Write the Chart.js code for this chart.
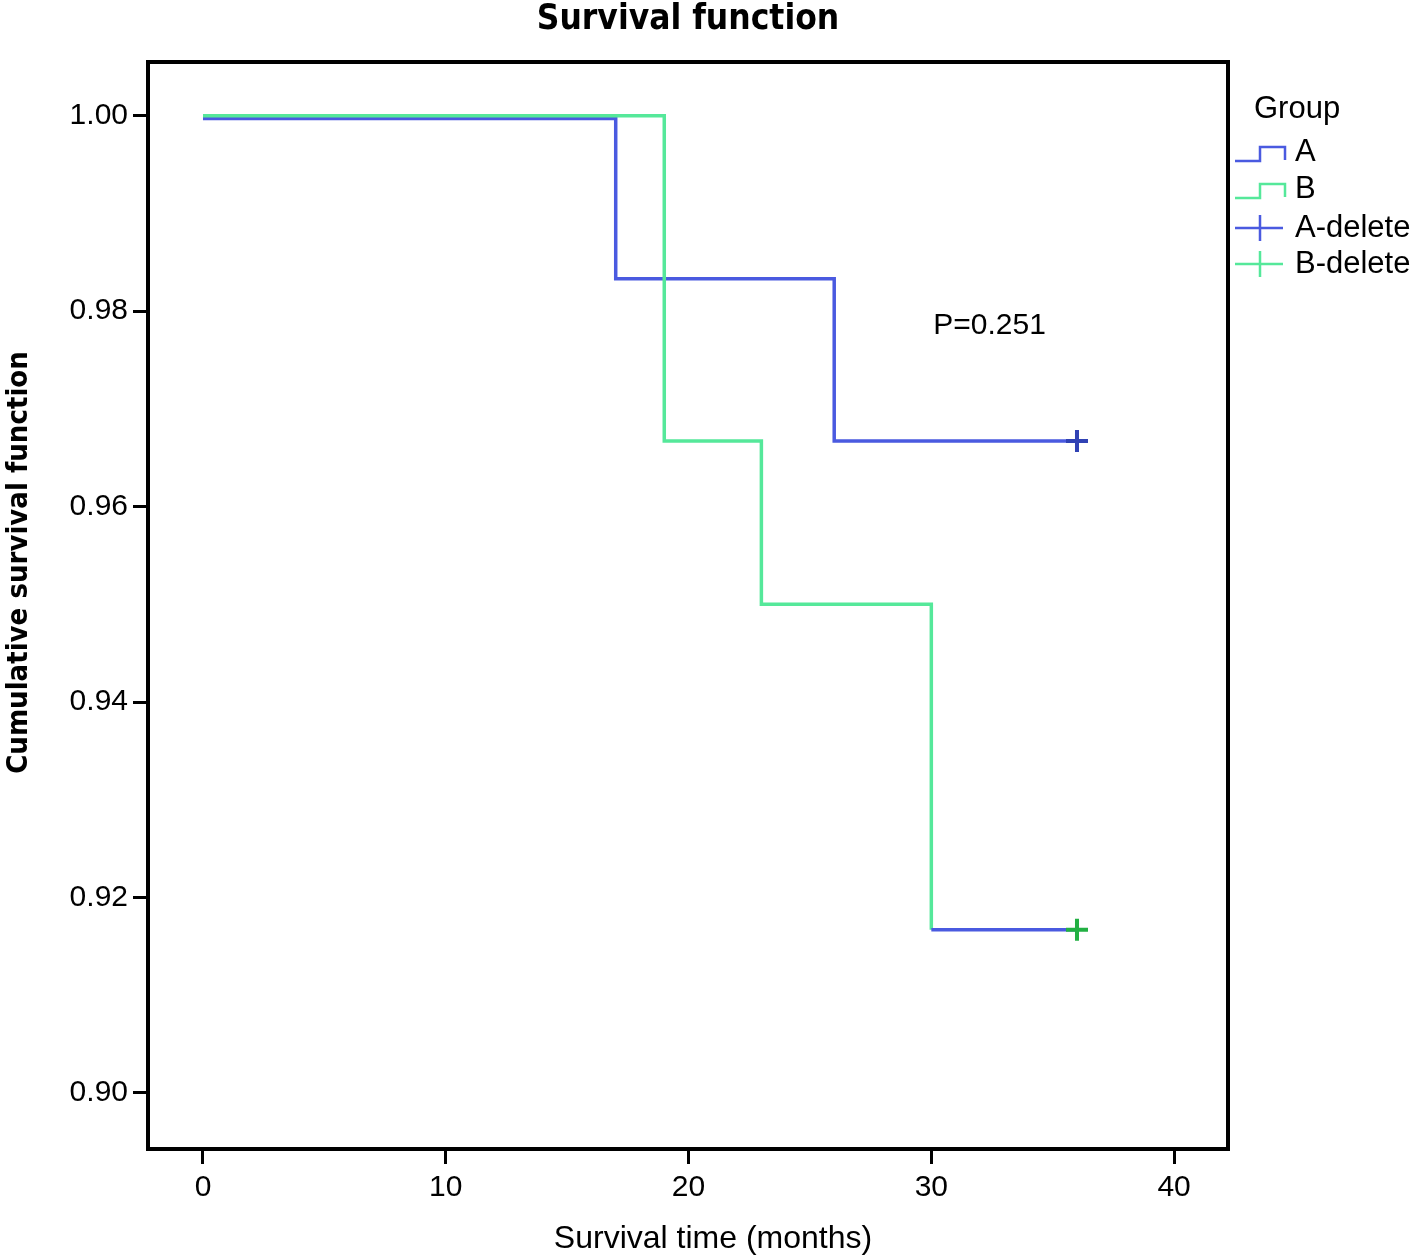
<!DOCTYPE html>
<html>
<head>
<meta charset="utf-8">
<script src="https://cdn.jsdelivr.net/npm/chart.js@4"></script>
<style>
  html, body { margin: 0; padding: 0; background: #fff; }
  #wrap { width: 1416px; height: 1257px; position: relative; }
</style>
</head>
<body>
<div id="wrap"><canvas id="c" width="1416" height="1257"></canvas></div>
<script>
// ---- data ----
const timesA = [0, 17, 26, 36];
const survA  = [0.9997, 0.9833, 0.9667, 0.9667];
const timesB = [0, 19, 23, 30, 36];
const survB  = [1.0, 0.9667, 0.9500, 0.9167, 0.9167];
const censorA = [{ x: 36, y: 0.9667 }];
const censorB = [{ x: 36, y: 0.9167 }];
const xTicks = [0, 10, 20, 30, 40];
const yTicks = [0.90, 0.92, 0.94, 0.96, 0.98, 1.00];
const groupNames = ['A', 'B', 'A-delete', 'B-delete'];
const pText = 'P=0.251';
const pPos = { x: 32.4, y: 0.9785 };
const xTitle = 'Survival time (months)';
const yTitle = 'Cumulative survival function';

const BLUE = '#4a5ae0';
const GREEN = '#55e89a';
const BLUE_MARK = '#3042b4';
const GREEN_MARK = '#22b043';
const FONT = "'Liberation Sans', Arial, sans-serif";
const NARROW = "'Liberation Sans Narrow', 'DejaVu Sans Condensed', Arial, sans-serif";

const ptsA = timesA.map((t, i) => ({ x: t, y: survA[i] }));
const ptsB = timesB.map((t, i) => ({ x: t, y: survB[i] }));

const boxPlugin = {
  id: 'box',
  afterDatasetsDraw(chart) {
    const { ctx, chartArea: a } = chart;
    ctx.save();
    ctx.strokeStyle = '#000';
    ctx.lineWidth = 4;
    ctx.beginPath();
    ctx.moveTo(a.left, a.top);
    ctx.lineTo(a.right, a.top);
    ctx.lineTo(a.right, a.bottom);
    ctx.stroke();
    // P value annotation
    const xs = chart.scales.x, ys = chart.scales.y;
    ctx.fillStyle = '#000';
    ctx.font = '30px ' + FONT;
    ctx.textAlign = 'center';
    ctx.textBaseline = 'middle';
    ctx.fillText(pText, xs.getPixelForValue(pPos.x), ys.getPixelForValue(pPos.y));
    // axis titles
    ctx.font = '32px ' + FONT;
    ctx.fillText(xTitle, (a.left + a.right) / 2 + 25, 1239);
    ctx.save();
    ctx.translate(19, (a.top + a.bottom) / 2 - 43);
    ctx.rotate(-Math.PI / 2);
    ctx.font = 'bold 29px ' + NARROW;
    ctx.fillText(yTitle, 0, 0);
    ctx.restore();
    ctx.restore();
  }
};

const legendPlugin = {
  id: 'kmLegend',
  afterDraw(chart) {
    const { ctx, chartArea: a } = chart;
    const x0 = a.right + 7;
    ctx.save();
    ctx.fillStyle = '#000';
    ctx.textBaseline = 'middle';
    ctx.textAlign = 'left';
    ctx.font = '31px ' + FONT;
    ctx.fillText('Group', a.right + 26, 109);
    const rows = [152, 189, 228, 264];
    const cols = [BLUE, GREEN, BLUE, GREEN];
    ctx.lineWidth = 2.5;
    rows.forEach((y, i) => {
      ctx.strokeStyle = cols[i];
      ctx.beginPath();
      if (i < 2) {
        ctx.moveTo(x0, y + 9);
        ctx.lineTo(x0 + 25, y + 9);
        ctx.lineTo(x0 + 25, y - 5);
        ctx.lineTo(x0 + 50, y - 5);
        ctx.lineTo(x0 + 50, y + 8);
      } else {
        ctx.moveTo(x0, y);
        ctx.lineTo(x0 + 48, y);
        ctx.moveTo(x0 + 25, y - 13);
        ctx.lineTo(x0 + 25, y + 13);
      }
      ctx.stroke();
      ctx.fillStyle = '#000';
      ctx.fillText(groupNames[i], a.right + 67, y);
    });
    ctx.restore();
  }
};

new Chart(document.getElementById('c'), {
  type: 'line',
  data: {
    datasets: [
      {
        label: 'B-delete', data: censorB, showLine: false,
        pointStyle: 'cross', pointRadius: 11, pointBorderWidth: 4,
        borderColor: GREEN_MARK, backgroundColor: GREEN_MARK, order: 0
      },
      {
        label: 'A-delete', data: censorA, showLine: false,
        pointStyle: 'cross', pointRadius: 11, pointBorderWidth: 4,
        borderColor: BLUE_MARK, backgroundColor: BLUE_MARK, order: 0
      },
      {
        label: 'B', data: ptsB, stepped: 'before', borderColor: GREEN, borderWidth: 3.5,
        pointRadius: 0, fill: false, order: 1,
        segment: {
          borderColor: ctx => (ctx.p1DataIndex === ptsB.length - 1 ? BLUE : GREEN)
        }
      },
      {
        label: 'A', data: ptsA, stepped: 'before', borderColor: BLUE, borderWidth: 3.5,
        pointRadius: 0, fill: false, order: 2
      }
    ]
  },
  options: {
    responsive: false,
    animation: false,
    events: [],
    layout: { padding: { left: 0, right: 188, top: 0, bottom: 0 } },
    plugins: {
      legend: { display: false },
      tooltip: { enabled: false },
      title: {
        display: true,
        text: 'Survival function',
        fullSize: false,
        color: '#000',
        font: { family: NARROW, size: 35, weight: 'bold', lineHeight: 1.0 },
        padding: { top: 2, bottom: 25 }
      }
    },
    scales: {
      x: {
        type: 'linear',
        min: -2.265, max: 42.22,
        afterBuildTicks: s => { s.ticks = xTicks.map(v => ({ value: v })); },
        afterFit: s => { s.height = 108; },
        grid: { drawOnChartArea: false, drawTicks: true, tickLength: 15, lineWidth: 3, tickWidth: 3, color: '#000', tickColor: '#000' },
        border: { display: true, color: '#000', width: 4 },
        ticks: { color: '#000', font: { family: FONT, size: 30 }, padding: 6, maxRotation: 0,
                 callback: v => String(v) },
        title: { display: false }
      },
      y: {
        type: 'linear',
        min: 0.89427, max: 1.00549,
        afterBuildTicks: s => { s.ticks = yTicks.map(v => ({ value: v })); },
        afterFit: s => { s.width = 148; },
        grid: { drawOnChartArea: false, drawTicks: true, tickLength: 15, lineWidth: 3, tickWidth: 3, color: '#000', tickColor: '#000' },
        border: { display: true, color: '#000', width: 4 },
        ticks: { color: '#000', font: { family: FONT, size: 30 }, padding: 5,
                 callback: v => Number(v).toFixed(2) },
        title: { display: false }
      }
    }
  },
  plugins: [boxPlugin, legendPlugin]
});
</script>
</body>
</html>
